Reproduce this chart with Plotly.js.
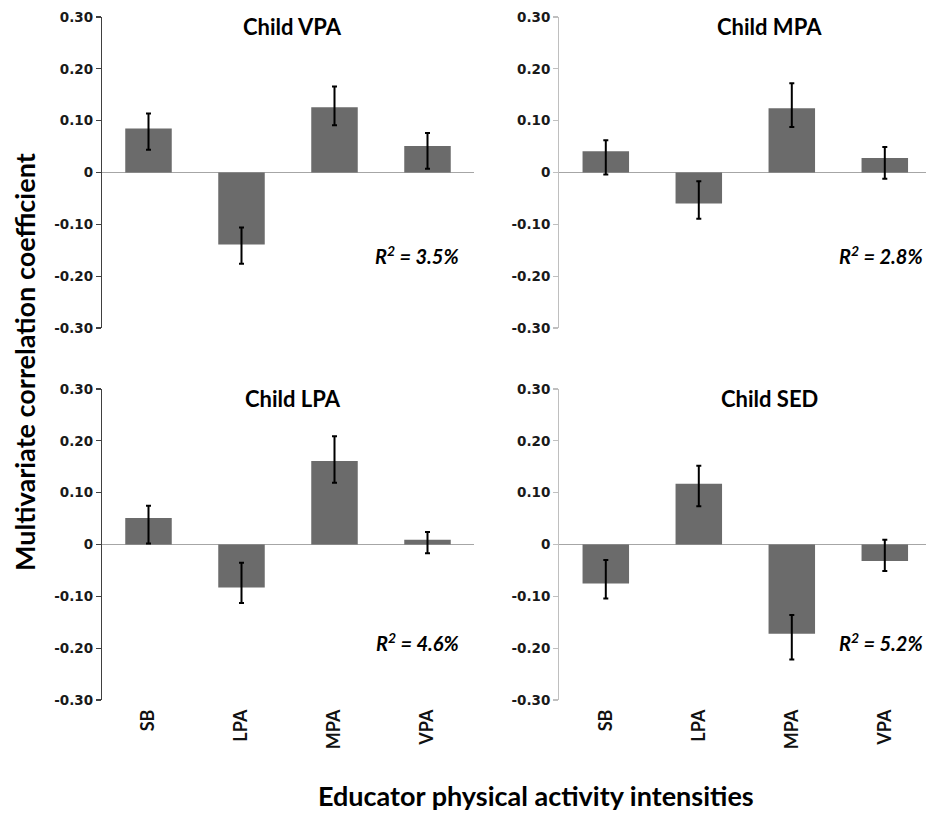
<!DOCTYPE html>
<html>
<head>
<meta charset="utf-8">
<script src="https://cdn.plot.ly/plotly-3.0.1.min.js"></script>
<style>html,body{margin:0;padding:0;background:#fff;overflow:hidden}#chart{width:926px;height:814px}</style>
</head>
<body>
<div id="chart"></div>
<script>
const categories = ['SB', 'LPA', 'MPA', 'VPA'];
const panelTitles = ['Child VPA', 'Child MPA', 'Child LPA', 'Child SED'];
const r2Labels = ['3.5%', '2.8%', '4.6%', '5.2%'];

const vpaValues = [0.085, -0.139, 0.126, 0.051];
const vpaLow    = [0.044, -0.176, 0.091, 0.007];
const vpaHigh   = [0.114, -0.106, 0.166, 0.076];

const mpaValues = [0.041, -0.060, 0.124, 0.028];
const mpaLow    = [-0.004, -0.089, 0.088, -0.012];
const mpaHigh   = [0.062, -0.017, 0.172, 0.049];

const lpaValues = [0.051, -0.083, 0.161, 0.009];
const lpaLow    = [0.002, -0.113, 0.119, -0.017];
const lpaHigh   = [0.075, -0.035, 0.209, 0.024];

const sedValues = [-0.075, 0.117, -0.172, -0.032];
const sedLow    = [-0.104, 0.074, -0.222, -0.051];
const sedHigh   = [-0.030, 0.152, -0.136, 0.009];

const yTickVals = [0.3, 0.2, 0.1, 0, -0.1, -0.2, -0.3];
const yTickText = ['0.30', '0.20', '0.10', '0', '-0.10', '-0.20', '-0.30'];

const panels = [
  {v: vpaValues, lo: vpaLow, hi: vpaHigh},
  {v: mpaValues, lo: mpaLow, hi: mpaHigh},
  {v: lpaValues, lo: lpaLow, hi: lpaHigh},
  {v: sedValues, lo: sedLow, hi: sedHigh}
];

const FONT = 'Lato, "Open Sans", sans-serif';
const TICKFONT = '"DejaVu Sans", Lato, sans-serif';
const traces = panels.map((p, i) => {
  const ax = i === 0 ? '' : String(i + 1);
  return {
    type: 'bar',
    x: categories,
    y: p.v,
    xaxis: 'x' + ax,
    yaxis: 'y' + ax,
    marker: {color: '#6b6b6b', line: {width: 0}},
    error_y: {
      type: 'data', symmetric: false,
      array: p.hi.map((h, k) => h - p.v[k]),
      arrayminus: p.v.map((v, k) => v - p.lo[k]),
      color: '#000', thickness: 2, width: 2.5
    },
    hoverinfo: 'x+y',
    showlegend: false
  };
});

const xLeft = [102/926, 474/926];
const xRight = [559.3/926, 1];
const rightRange = [-0.5, -0.5 + (926 - 559.3)/93];
const yTop = [1 - 328/814, 1 - 17/814];
const yBot = [1 - 700/814, 1 - 389/814];

function yax(domain, lineColor) {
  return {
    domain: domain, range: [-0.3, 0.3], tickvals: yTickVals, ticktext: yTickText,
    showgrid: false, zeroline: true, zerolinecolor: '#a6a6a6', zerolinewidth: 1.5,
    showline: true, linecolor: lineColor, linewidth: 1.2,
    ticks: 'outside', ticklen: 5, tickwidth: 1.2, tickcolor: lineColor,
    tickfont: {family: TICKFONT, size: 13.5, color: '#1a1a1a', weight: 'bold'},
    fixedrange: true
  };
}
function xax(domain, anchor, showLabels, range) {
  return {
    domain: domain, anchor: anchor, range: range, type: 'category',
    showgrid: false, zeroline: false, showline: false, ticks: '',
    showticklabels: showLabels, tickangle: -90, ticklabelstandoff: 5,
    tickfont: {family: FONT, size: 18, color: '#111', weight: 'bold'},
    fixedrange: true
  };
}

const annotations = [];
const titleX = [0.513, 0.572, 0.513, 0.572];
const r2X = [0.964, 0.997, 0.964, 0.997];
const r2Y = [0.235, 0.235, 0.187, 0.187];
panelTitles.forEach((t, i) => {
  const ax = i === 0 ? '' : String(i + 1);
  annotations.push({
    text: '<b>' + t + '</b>', xref: 'x' + ax + ' domain', yref: 'y' + ax + ' domain',
    x: titleX[i], y: 0.968, xanchor: 'center', yanchor: 'middle', showarrow: false,
    font: {family: FONT, size: 22, color: '#000'}
  });
  annotations.push({
    text: '<b><i>R<sup>2</sup> = ' + r2Labels[i] + '</i></b>', xref: 'x' + ax + ' domain', yref: 'y' + ax + ' domain',
    x: r2X[i], y: r2Y[i], xanchor: 'right', yanchor: 'middle', showarrow: false,
    font: {family: FONT, size: 20, color: '#000'}
  });
});
annotations.push({
  text: '<b>Multivariate correlation coefficient</b>', xref: 'paper', yref: 'paper',
  x: 25/926, y: 1 - 362/814, textangle: -90, xanchor: 'center', yanchor: 'middle', showarrow: false,
  font: {family: FONT, size: 27, color: '#000'}
});
annotations.push({
  text: '<b>Educator physical activity intensities</b>', xref: 'paper', yref: 'paper',
  x: 536/926, y: 1 - 795/814, xanchor: 'center', yanchor: 'middle', showarrow: false,
  font: {family: FONT, size: 27, color: '#000'}
});

const layout = {
  width: 926, height: 814,
  margin: {l: 0, r: 0, t: 0, b: 0},
  paper_bgcolor: '#fff', plot_bgcolor: '#fff',
  bargap: 0.5,
  xaxis: xax(xLeft, 'y', false),
  yaxis: yax(yTop, '#404040'),
  xaxis2: xax(xRight, 'y2', false, rightRange),
  yaxis2: Object.assign(yax(yTop, '#bfbfbf'), {anchor: 'x2'}),
  xaxis3: xax(xLeft, 'y3', true),
  yaxis3: Object.assign(yax(yBot, '#404040'), {anchor: 'x3'}),
  xaxis4: xax(xRight, 'y4', true, rightRange),
  yaxis4: Object.assign(yax(yBot, '#bfbfbf'), {anchor: 'x4'}),
  annotations: annotations,
  font: {family: FONT}
};
layout.yaxis.anchor = 'x';

Plotly.newPlot('chart', traces, layout, {displayModeBar: false, staticPlot: true});
</script>
</body>
</html>
